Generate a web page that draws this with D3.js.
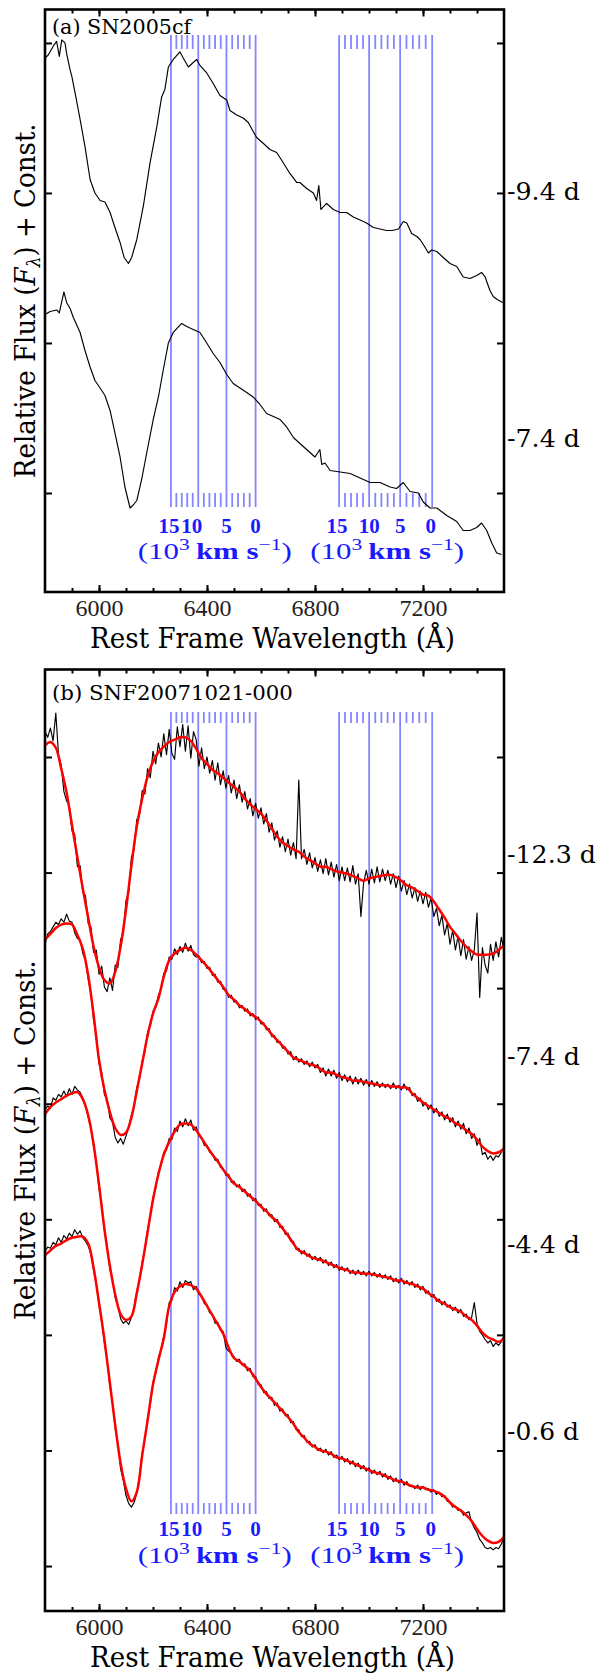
<!DOCTYPE html>
<html><head><meta charset="utf-8">
<script src="https://cdn.jsdelivr.net/npm/d3@7"></script>
<style>body{margin:0;background:#fff} svg{display:block}</style>
</head><body>
<svg id="c" width="599" height="1675"></svg>
<script>
// ---------------- DATA ----------------
// Panel (a) SN2005cf, two epochs (wavelength in Angstrom, relative flux + const.)
const waveA1 = [5800,5812,5831,5843,5853,5862,5874,5880,5893,5899,5911,5930,5948,5967,5985,6004,6022,6041,6059,6078,6093,6109,6121,6140,6164,6189,6214,6232,6244,6257,6275,6300,6312,6331,6349,6362,6374,6399,6423,6448,6473,6485,6510,6534,6553,6571,6584,6609,6633,6658,6683,6707,6732,6744,6769,6794,6806,6814,6822,6843,6868,6893,6917,6942,6967,6991,7016,7041,7065,7086,7109,7127,7140,7158,7177,7189,7207,7220,7232,7251,7275,7300,7325,7349,7374,7399,7417,7430,7448,7460,7475,7495];
const fluxA1 = [2.90,2.92,2.98,3.01,2.91,3.02,3.00,2.93,2.82,2.78,2.67,2.49,2.31,2.09,2.00,1.95,1.94,1.87,1.77,1.67,1.57,1.53,1.57,1.69,1.91,2.20,2.44,2.64,2.69,2.84,2.89,2.94,2.90,2.84,2.87,2.89,2.85,2.80,2.73,2.65,2.62,2.55,2.52,2.50,2.47,2.41,2.37,2.33,2.29,2.27,2.20,2.13,2.07,2.07,2.03,2.00,1.95,2.05,1.89,1.93,1.89,1.87,1.87,1.84,1.82,1.80,1.77,1.76,1.75,1.75,1.76,1.81,1.80,1.73,1.71,1.69,1.64,1.60,1.62,1.61,1.57,1.53,1.51,1.44,1.43,1.45,1.47,1.44,1.35,1.31,1.29,1.27];
const waveA2 = [5800,5819,5843,5853,5870,5880,5893,5905,5930,5948,5967,5985,6004,6022,6041,6059,6078,6096,6115,6127,6140,6158,6177,6201,6220,6238,6257,6275,6306,6325,6349,6374,6399,6423,6448,6473,6497,6522,6547,6571,6596,6621,6646,6670,6695,6720,6744,6769,6800,6818,6825,6837,6856,6893,6930,6967,7004,7041,7078,7102,7127,7152,7183,7201,7226,7251,7288,7325,7349,7374,7399,7417,7436,7454,7473,7491];
const fluxA2 = [1.19,1.21,1.22,1.20,1.34,1.27,1.23,1.17,1.07,0.95,0.84,0.75,0.70,0.65,0.55,0.40,0.24,0.04,-0.10,-0.08,-0.05,0.09,0.27,0.49,0.64,0.82,1.00,1.07,1.13,1.11,1.09,1.07,1.00,0.93,0.87,0.79,0.73,0.70,0.67,0.64,0.59,0.53,0.51,0.49,0.44,0.37,0.33,0.29,0.24,0.29,0.19,0.20,0.15,0.14,0.13,0.10,0.07,0.07,0.04,0.03,0.07,0.01,0.00,-0.06,-0.10,-0.10,-0.15,-0.19,-0.25,-0.25,-0.23,-0.20,-0.25,-0.33,-0.40,-0.41];

// Panel (b) SNF20071021-000: observed spectra (10 A grid) and smooth fits (20 A grid)
const waveObs = [5800,5810,5820,5830,5840,5850,5860,5870,5880,5890,5900,5910,5920,5930,5940,5950,5960,5970,5980,5990,6000,6010,6020,6030,6040,6050,6060,6070,6080,6090,6100,6110,6120,6130,6140,6150,6160,6170,6180,6190,6200,6210,6220,6230,6240,6250,6260,6270,6280,6290,6300,6310,6320,6330,6340,6350,6360,6370,6380,6390,6400,6410,6420,6430,6440,6450,6460,6470,6480,6490,6500,6510,6520,6530,6540,6550,6560,6570,6580,6590,6600,6610,6620,6630,6640,6650,6660,6670,6680,6690,6700,6710,6720,6730,6740,6750,6760,6770,6780,6790,6800,6810,6820,6830,6840,6850,6860,6870,6880,6890,6900,6910,6920,6930,6940,6950,6960,6970,6980,6990,7000,7010,7020,7030,7040,7050,7060,7070,7080,7090,7100,7110,7120,7130,7140,7150,7160,7170,7180,7190,7200,7210,7220,7230,7240,7250,7260,7270,7280,7290,7300,7310,7320,7330,7340,7350,7360,7370,7380,7390,7400,7410,7420,7430,7440,7450,7460,7470,7480,7490,7500];
const waveFit = [5800,5820,5840,5860,5880,5900,5920,5940,5960,5980,6000,6020,6040,6060,6080,6100,6120,6140,6160,6180,6200,6220,6240,6260,6280,6300,6320,6340,6360,6380,6400,6420,6440,6460,6480,6500,6520,6540,6560,6580,6600,6620,6640,6660,6680,6700,6720,6740,6760,6780,6800,6820,6840,6860,6880,6900,6920,6940,6960,6980,7000,7020,7040,7060,7080,7100,7120,7140,7160,7180,7200,7220,7240,7260,7280,7300,7320,7340,7360,7380,7400,7420,7440,7460,7480,7500];

const obsB1 = [7.22,7.17,7.25,7.14,7.38,7.02,6.93,6.70,6.62,6.58, 6.36,6.33,6.05,6.06,5.83,5.80,5.56,5.53,5.31,5.33, 5.12,5.19,5.01,4.97,5.09,4.98,5.20,5.18,5.42,5.47, 5.76,5.83,6.13,6.20,6.46,6.49,6.71,6.68,6.90,6.82, 7.05,6.94,7.12,7.00,7.20,7.02,7.24,7.03,6.98,7.26, 7.09,7.28,7.05,7.27,6.99,7.22,7.15,6.92,7.08,6.90, 7.00,6.86,6.97,6.80,6.95,6.76,6.88,6.73,6.84,6.69, 6.80,6.64,6.76,6.61,6.70,6.55,6.64,6.49,6.60,6.47, 6.56,6.42,6.51,6.35,6.43,6.28,6.36,6.22,6.31,6.18, 6.29,6.15,6.26,6.12,6.80,6.12,6.20,6.07,6.17,6.04, 6.13,6.01,6.11,5.99,6.12,5.98,6.09,5.96,6.07,5.93, 6.05,5.93,6.04,5.92,6.06,5.90,5.99,5.62,5.91,6.02, 5.90,6.03,5.91,6.05,5.92,6.03,5.93,6.02,5.90,5.99, 5.87,5.97,5.84,5.93,5.81,5.90,5.78,5.87,5.75,5.84, 5.73,5.83,5.70,5.78,5.62,5.69,5.54,5.63,5.46,5.56, 5.38,5.50,5.33,5.45,5.28,5.42,5.25,5.36,5.24,5.33, 5.65,4.92,5.35,5.20,5.13,5.38,5.24,5.40,5.27,5.44, 5.33];
const fitB1 = [7.10,7.13,7.08,6.90,6.69,6.41,6.13,5.86,5.61,5.36, 5.18,5.07,5.04,5.14,5.36,5.68,6.06,6.40,6.64,6.83, 6.96,7.04,7.09,7.13,7.15,7.17,7.17,7.14,7.07,6.99, 6.94,6.89,6.86,6.82,6.78,6.74,6.70,6.64,6.59,6.55, 6.51,6.45,6.38,6.31,6.26,6.23,6.20,6.18,6.14,6.11, 6.08,6.05,6.05,6.03,6.01,6.00,5.99,5.97,5.95,5.93, 5.95,5.96,5.97,5.98,5.98,5.96,5.93,5.89,5.87,5.84, 5.81,5.80,5.75,5.68,5.61,5.53,5.47,5.41,5.36,5.32, 5.29,5.29,5.29,5.30,5.33,5.37];

const obsB2 = [5.38,5.47,5.49,5.53,5.57,5.55,5.60,5.57,5.64,5.58, 5.57,5.48,5.43,5.42,5.30,5.24,5.08,4.96,4.72,4.60, 4.35,4.27,4.08,4.04,3.88,3.84,3.71,3.66,3.70,3.65, 3.72,3.80,3.90,3.98,4.14,4.21,4.37,4.45,4.62,4.67, 4.80,4.83,4.94,4.99,5.13,5.15,5.27,5.25,5.34,5.29, 5.36,5.31,5.39,5.32,5.37,5.29,5.27,5.28,5.22,5.23, 5.17,5.18,5.11,5.12,5.05,5.06,4.99,4.99,4.92,4.94, 4.88,4.89,4.83,4.85,4.80,4.82,4.76,4.78,4.73,4.75, 4.69,4.70,4.64,4.65,4.58,4.59,4.53,4.54,4.48,4.49, 4.43,4.45,4.38,4.41,4.36,4.39,4.34,4.37,4.32,4.36, 4.31,4.34,4.27,4.31,4.24,4.30,4.24,4.29,4.22,4.27, 4.20,4.25,4.19,4.24,4.17,4.23,4.17,4.22,4.16,4.21, 4.15,4.20,4.15,4.19,4.14,4.18,4.14,4.17,4.13,4.18, 4.13,4.16,4.12,4.17,4.12,4.14,4.07,4.09,4.02,4.05, 3.98,4.01,3.95,3.99,3.92,3.96,3.89,3.93,3.86,3.91, 3.84,3.88,3.80,3.85,3.78,3.83,3.74,3.79,3.70,3.74, 3.64,3.70,3.56,3.58,3.52,3.55,3.51,3.55,3.54,3.58, 3.63];
const fitB2 = [5.42,5.47,5.52,5.55,5.56,5.55,5.46,5.34,5.11,4.77, 4.38,4.12,3.93,3.79,3.73,3.75,3.88,4.11,4.35,4.59, 4.78,4.91,5.10,5.24,5.30,5.33,5.35,5.33,5.29,5.24, 5.19,5.13,5.07,5.01,4.94,4.90,4.85,4.82,4.78,4.75, 4.71,4.66,4.60,4.55,4.50,4.45,4.40,4.38,4.36,4.34, 4.33,4.30,4.27,4.27,4.25,4.23,4.22,4.20,4.20,4.19, 4.18,4.17,4.16,4.16,4.15,4.15,4.14,4.14,4.09,4.05, 4.01,3.98,3.95,3.92,3.89,3.87,3.83,3.81,3.77,3.74, 3.69,3.63,3.59,3.57,3.58,3.61];

const obsB3 = [3.95,3.98,3.96,4.05,4.03,4.08,4.06,4.11,4.06,4.13, 4.08,4.15,4.12,4.10,4.05,3.99,3.88,3.79,3.63,3.49, 3.27,3.12,2.90,2.77,2.57,2.48,2.32,2.25,2.14,2.10, 2.12,2.09,2.15,2.24,2.38,2.47,2.63,2.74,2.91,3.02, 3.19,3.27,3.41,3.47,3.58,3.60,3.70,3.69,3.79,3.76, 3.85,3.80,3.87,3.81,3.86,3.77,3.80,3.72,3.71,3.64, 3.64,3.58,3.57,3.51,3.52,3.45,3.44,3.38,3.39,3.32, 3.33,3.28,3.30,3.24,3.26,3.20,3.22,3.16,3.18,3.12, 3.13,3.07,3.09,3.03,3.04,2.98,3.00,2.93,2.94,2.87, 2.88,2.81,2.81,2.74,2.75,2.70,2.73,2.68,2.70,2.65, 2.68,2.64,2.67,2.62,2.65,2.60,2.63,2.58,2.61,2.56, 2.59,2.55,2.58,2.53,2.56,2.52,2.56,2.52,2.55,2.51, 2.55,2.51,2.54,2.50,2.53,2.49,2.52,2.48,2.51,2.46, 2.49,2.45,2.49,2.44,2.47,2.43,2.46,2.41,2.44,2.39, 2.42,2.36,2.38,2.33,2.35,2.29,2.31,2.26,2.29,2.24, 2.26,2.21,2.24,2.19,2.22,2.16,2.18,2.13,2.15,2.28, 2.10,2.03,2.00,1.96,1.93,1.95,1.90,1.93,1.91,1.94, 1.99];
const fitB3 = [3.91,3.97,4.01,4.04,4.07,4.09,4.10,4.04,3.90,3.65, 3.30,2.92,2.60,2.35,2.18,2.13,2.16,2.36,2.61,2.89, 3.17,3.39,3.56,3.67,3.76,3.82,3.83,3.82,3.77,3.70, 3.63,3.56,3.50,3.43,3.37,3.31,3.28,3.24,3.20,3.16, 3.11,3.07,3.02,2.98,2.92,2.86,2.79,2.73,2.71,2.68, 2.66,2.65,2.63,2.61,2.59,2.57,2.56,2.54,2.54,2.53, 2.53,2.52,2.51,2.50,2.49,2.47,2.47,2.45,2.44,2.42, 2.40,2.36,2.33,2.29,2.27,2.24,2.22,2.20,2.16,2.13, 2.08,2.02,1.98,1.96,1.94,1.97];

const obsB4 = [2.72,2.76,2.75,2.80,2.78,2.84,2.80,2.86,2.83,2.88, 2.85,2.91,2.87,2.90,2.84,2.81,2.77,2.70,2.56,2.44, 2.26,2.13,1.93,1.78,1.56,1.41,1.19,1.06,0.84,0.74, 0.61,0.54,0.51,0.55,0.63,0.78,0.98,1.10,1.28,1.40, 1.59,1.67,1.80,1.88,1.99,2.10,2.28,2.30,2.41,2.38, 2.46,2.41,2.47,2.45,2.46,2.39,2.42,2.35,2.34,2.27, 2.26,2.19,2.18,2.10,2.11,2.04,2.03,1.89,1.86,1.84, 1.81,1.77,1.79,1.74,1.75,1.69,1.71,1.64,1.64,1.57, 1.57,1.50,1.51,1.45,1.46,1.39,1.41,1.34,1.36,1.30, 1.31,1.24,1.25,1.18,1.18,1.12,1.13,1.07,1.08,1.03, 1.05,1.00,1.02,0.98,1.01,0.96,0.99,0.94,0.96,0.92, 0.95,0.90,0.93,0.88,0.91,0.86,0.89,0.84,0.87,0.82, 0.85,0.80,0.83,0.79,0.82,0.77,0.80,0.75,0.78,0.73, 0.76,0.72,0.75,0.70,0.73,0.69,0.70,0.67,0.70,0.66, 0.69,0.66,0.67,0.64,0.66,0.62,0.64,0.60,0.61,0.56, 0.55,0.51,0.52,0.48,0.49,0.44,0.46,0.47,0.38,0.33, 0.29,0.23,0.20,0.16,0.15,0.16,0.14,0.16,0.15,0.19, 0.25];
const fitB4 = [2.69,2.73,2.77,2.79,2.82,2.84,2.85,2.85,2.79,2.58, 2.28,1.96,1.59,1.22,0.89,0.67,0.56,0.64,0.96,1.26, 1.57,1.78,1.97,2.25,2.37,2.42,2.44,2.43,2.40,2.33, 2.25,2.17,2.09,2.01,1.89,1.80,1.77,1.73,1.69,1.62, 1.55,1.49,1.44,1.39,1.34,1.29,1.23,1.16,1.11,1.06, 1.03,1.00,0.99,0.97,0.94,0.93,0.91,0.89,0.87,0.85, 0.83,0.81,0.80,0.78,0.76,0.74,0.73,0.71,0.69,0.68, 0.68,0.66,0.65,0.63,0.60,0.55,0.51,0.48,0.44,0.39, 0.32,0.26,0.22,0.20,0.21,0.25];

// Velocity markers (C II 6580 and 7234), velocities in 10^3 km/s
const restWaves = [6580, 7234];
const velMajor = [15, 10, 5, 0];
const velMinor = [1,2,3,4,6,7,8,9,11,12,13,14];

// Axis ticks and labels
const xMajorTicks = [6000, 6400, 6800, 7200];
const yTicksA = [0, 1, 2, 3];
const yTicksB = [0, 1, 2, 3, 4, 5, 6, 7];
const epochsA = ['-9.4 d', '-7.4 d'];
const epochsB = ['-12.3 d', '-7.4 d', '-4.4 d', '-0.6 d'];

// ---------------- LAYOUT ----------------
const C_KMS = 299792.458;
const serif = '"DejaVu Serif", serif';
const cm = '"Liberation Serif", "Times New Roman", Times, serif';
const blueLine = '#8585ff', blueText = '#1a1aff';

const svg = d3.select('#c');
const x = d3.scaleLinear().domain([5800, 7500]).range([45, 504]);

const panels = [
  { id:'a', top:9.5, bottom:592, ydom:[-0.66, 3.223], yticks:yTicksA,
    title:'(a) SN2005cf', titleSize:20, titleW:141, titleBase:34,
    velTop:35, velBot:507, velMinorLen:14, numBase:533, unitBase:559,
    yTitleW:355, xTitleBase:648, tickBase:24,
    obs:[[waveA1, fluxA1],[waveA2, fluxA2]], fits:[],
    epochs:epochsA, epochY:[1.953, 0.307], epochW:[73,73] },
  { id:'b', top:669.5, bottom:1611, ydom:[-0.389, 7.757], yticks:yTicksB,
    title:'(b) SNF20071021-000', titleSize:21, titleW:241, titleBase:700,
    velTop:712, velBot:1514, velMinorLen:11, numBase:1536, unitBase:1563,
    yTitleW:360, xTitleBase:1667, tickBase:24,
    obs:[[waveObs, obsB1],[waveObs, obsB2],[waveObs, obsB3],[waveObs, obsB4]],
    fits:[[waveFit, fitB1],[waveFit, fitB2],[waveFit, fitB3],[waveFit, fitB4]],
    epochs:epochsB, epochY:[6.083, 4.335, 2.708, 1.090], epochW:[89,73,73,72] }
];

function placeText(parent, px, py, anchor, targetW, build, rotate) {
  const g = parent.append('g').attr('transform', `translate(${px},${py})` + (rotate ? ' rotate(-90)' : ''));
  const t = g.append('text').attr('text-anchor', anchor);
  build(t);
  const w = t.node().getBBox().width;
  if (targetW && w > 0) t.attr('transform', `scale(${targetW / w},1)`);
  return t;
}

panels.forEach((p, pi) => {
  const y = d3.scaleLinear().domain(p.ydom).range([p.bottom, p.top]);
  const g = svg.append('g');
  const clipId = 'clip' + p.id;
  svg.append('clipPath').attr('id', clipId).append('rect')
    .attr('x', 45).attr('y', p.top).attr('width', 459).attr('height', p.bottom - p.top);

  // velocity markers
  const vg = g.append('g').attr('stroke', blueLine).attr('stroke-width', 1.8);
  restWaves.forEach((l0, gi) => {
    const lam = v => l0 / (1 + v * 1000 / C_KMS);
    velMajor.forEach(v => {
      const xx = x(lam(v));
      vg.append('line').attr('x1', xx).attr('x2', xx).attr('y1', p.velTop).attr('y2', p.velBot);
    });
    velMinor.forEach(v => {
      const xx = x(lam(v));
      vg.append('line').attr('x1', xx).attr('x2', xx).attr('y1', p.velTop).attr('y2', p.velTop + p.velMinorLen);
      vg.append('line').attr('x1', xx).attr('x2', xx).attr('y1', p.velBot - p.velMinorLen).attr('y2', p.velBot);
    });
    velMajor.forEach(v => {
      let dx = 0;
      if (v === 15) dx = -2;
      if (v === 10 && gi === 0) dx = -6.5;
      if (v === 0 && gi === 1) dx = -1.5;
      g.append('text').attr('x', x(lam(v)) + dx).attr('y', p.numBase)
        .attr('text-anchor', 'middle').style('font-family', cm).style('font-weight', 'bold')
        .style('font-size', '21px').attr('fill', blueText).text(v);
    });
    const cx = (x(lam(15)) + x(lam(0))) / 2 + 1.5;
    placeText(g, cx, p.unitBase, 'middle', 154, t => {
      t.style('font-family', cm).style('font-size', '23px').attr('fill', blueText);
      t.append('tspan').text('(10');
      t.append('tspan').style('font-size', '16px').attr('dy', -9).text('3');
      t.append('tspan').attr('dy', 9).style('font-weight', 'bold').text('\u2009km s');
      t.append('tspan').style('font-size', '16px').attr('dy', -9).text('\u22121');
      t.append('tspan').attr('dy', 9).text(')');
    });
  });

  // spectra
  const line = d3.line().x(d => x(d[0])).y(d => y(d[1]));
  const smooth = d3.line().x(d => x(d[0])).y(d => y(d[1])).curve(d3.curveCatmullRom.alpha(0.5));
  const sg = g.append('g').attr('clip-path', `url(#${clipId})`);
  p.obs.forEach(([w, f]) => {
    sg.append('path').datum(d3.zip(w, f)).attr('d', line)
      .attr('fill', 'none').attr('stroke', '#000').attr('stroke-width', 1.15).attr('stroke-linejoin', 'round');
  });
  p.fits.forEach(([w, f]) => {
    sg.append('path').datum(d3.zip(w, f)).attr('d', smooth)
      .attr('fill', 'none').attr('stroke', '#ff0000').attr('stroke-width', 2.5);
  });

  // axes (inward ticks)
  const styleAxis = sel => { sel.select('.domain').remove(); sel.selectAll('line').attr('stroke', '#000').attr('stroke-width', 2); };
  const minorX = x.ticks(17).filter(v => v > 5800 && v < 7500);
  g.append('g').attr('transform', `translate(0,${p.bottom})`)
    .call(d3.axisBottom(x).tickValues(minorX).tickSize(-4).tickFormat('')).call(styleAxis);
  g.append('g').attr('transform', `translate(0,${p.top})`)
    .call(d3.axisTop(x).tickValues(minorX).tickSize(-4).tickFormat('')).call(styleAxis);
  const bx = g.append('g').attr('transform', `translate(0,${p.bottom})`)
    .call(d3.axisBottom(x).tickValues(xMajorTicks).tickSize(-7).tickFormat(d3.format('d'))).call(styleAxis);
  bx.selectAll('text').attr('y', p.tickBase).attr('dy', 0)
    .style('font-family', cm).style('font-size', '24px').attr('fill', '#222');
  g.append('g').attr('transform', `translate(0,${p.top})`)
    .call(d3.axisTop(x).tickValues(xMajorTicks).tickSize(-7).tickFormat('')).call(styleAxis);
  g.append('g').attr('transform', `translate(45,0)`)
    .call(d3.axisLeft(y).tickValues(p.yticks).tickSize(-7).tickFormat('')).call(styleAxis);
  g.append('g').attr('transform', `translate(504,0)`)
    .call(d3.axisRight(y).tickValues(p.yticks).tickSize(-7).tickFormat('')).call(styleAxis);

  // frame
  g.append('rect').attr('x', 45).attr('y', p.top).attr('width', 459).attr('height', p.bottom - p.top)
    .attr('fill', 'none').attr('stroke', '#000').attr('stroke-width', 2.6);

  // panel title
  placeText(g, 52, p.titleBase, 'start', p.titleW, t => {
    t.style('font-family', serif).style('font-size', p.titleSize + 'px').attr('fill', '#000').text(p.title);
  });

  // epoch labels
  p.epochs.forEach((e, i) => {
    placeText(g, 507, y(p.epochY[i]), 'start', p.epochW[i], t => {
      t.style('font-family', serif).style('font-size', '24px').attr('fill', '#000').text(e);
    });
  });

  // axis titles
  placeText(g, 272.5, p.xTitleBase, 'middle', 365, t => {
    t.style('font-family', serif).style('font-size', '27px').attr('fill', '#000').text('Rest Frame Wavelength (\u00C5)');
  });
  placeText(g, 34.5, (p.top + p.bottom) / 2, 'middle', p.yTitleW, t => {
    t.style('font-family', serif).style('font-size', '27px').attr('fill', '#000');
    t.append('tspan').text('Relative Flux (');
    t.append('tspan').style('font-style', 'italic').text('F');
    t.append('tspan').style('font-style', 'italic').style('font-size', '18px').attr('dy', 5).text('\u03BB');
    t.append('tspan').attr('dy', -5).text(') + Const.');
  }, true);
});
</script>
</body></html>
